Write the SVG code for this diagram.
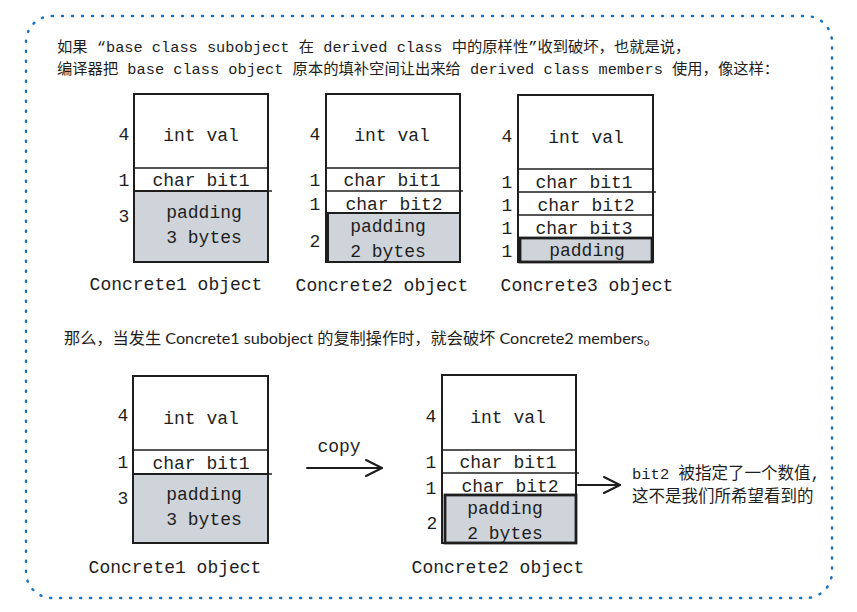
<svg xmlns="http://www.w3.org/2000/svg" width="857" height="612" viewBox="0 0 857 612">
<style>
.mono{font-family:"Liberation Mono","Noto Sans CJK SC",monospace;fill:#1e1e1e}
.cell{font-size:18px;text-anchor:middle}
.num{font-size:18px;text-anchor:middle}
.hdr{font-size:15.3px}
.mid{font-family:"Lato","Noto Sans CJK SC",sans-serif;font-size:16.2px;fill:#1e1e1e}
.box{fill:#ffffff;stroke:#1e1e1e;stroke-width:2}
.pad{fill:#ced4da;stroke:#1e1e1e;stroke-width:2}
.pad3{fill:#ced4da;stroke:#1e1e1e;stroke-width:2.8}
.sep{stroke:#1e1e1e;stroke-width:1.6;fill:none}
.conn{stroke:#1e1e1e;stroke-width:2;fill:none;stroke-linecap:round}
</style>
<defs>
<marker id="arr" viewBox="0 0 20 20" refX="19" refY="10" markerWidth="20" markerHeight="20" markerUnits="userSpaceOnUse" orient="auto">
<path d="M3 2 L19 10 L3 18" fill="none" stroke="#1e1e1e" stroke-width="2" stroke-linecap="round" stroke-linejoin="round"/>
</marker>
</defs>
<rect width="857" height="612" fill="#ffffff"/>
<rect id="frame" x="26" y="16" width="806" height="582" rx="26" ry="26" fill="none" stroke="#1971c2" stroke-width="2.5" stroke-dasharray="1 9" stroke-linecap="round"/>

<g id="header">
<text class="mono hdr" x="57" y="52">如果 “base class subobject 在 derived class 中的原样性”收到破坏，也就是说，</text>
<text class="mono hdr" x="57" y="74">编译器把 base class object 原本的填补空间让出来给 derived class members 使用，像这样：</text>
</g>

<g id="concrete1-top">
<rect class="box" x="134" y="94" width="134" height="168"/>
<rect class="pad" x="134" y="191" width="134" height="71"/>
<line class="sep" x1="134" y1="168" x2="268" y2="168"/>
<line class="sep" x1="134" y1="191" x2="272" y2="191"/>
<text class="mono cell" x="201" y="141">int val</text>
<text class="mono cell" x="201" y="186">char bit1</text>
<text class="mono cell" x="204" y="218">padding</text>
<text class="mono cell" x="204" y="243">3 bytes</text>
<text class="mono num" x="124" y="140">4</text>
<text class="mono num" x="124" y="186">1</text>
<text class="mono num" x="124" y="222">3</text>
<text class="mono cell" x="176" y="290">Concrete1 object</text>
</g>

<g id="concrete2-top">
<rect class="box" x="326" y="94" width="134" height="168"/>
<rect class="pad" x="328" y="213" width="132" height="49"/>
<line class="sep" x1="326" y1="168" x2="460" y2="168"/>
<line class="sep" x1="326" y1="191" x2="463" y2="191"/>
<text class="mono cell" x="392" y="141">int val</text>
<text class="mono cell" x="392" y="186">char bit1</text>
<text class="mono cell" x="394" y="210">char bit2</text>
<text class="mono cell" x="388" y="232">padding</text>
<text class="mono cell" x="388" y="257">2 bytes</text>
<text class="mono num" x="315" y="140">4</text>
<text class="mono num" x="315" y="186">1</text>
<text class="mono num" x="315" y="210">1</text>
<text class="mono num" x="315" y="247">2</text>
<text class="mono cell" x="382" y="291">Concrete2 object</text>
</g>

<g id="concrete3-top">
<rect class="box" x="518" y="95" width="135" height="167"/>
<line class="sep" x1="518" y1="169" x2="654" y2="169"/>
<line class="sep" x1="518" y1="192" x2="656" y2="192"/>
<line class="sep" x1="518" y1="215" x2="653" y2="215"/>
<rect class="pad3" x="520" y="238" width="132" height="24"/>
<text class="mono cell" x="586" y="143">int val</text>
<text class="mono cell" x="584" y="188">char bit1</text>
<text class="mono cell" x="586" y="211">char bit2</text>
<text class="mono cell" x="584" y="234">char bit3</text>
<text class="mono cell" x="587" y="256">padding</text>
<text class="mono num" x="507" y="142">4</text>
<text class="mono num" x="507" y="188">1</text>
<text class="mono num" x="507" y="211">1</text>
<text class="mono num" x="507" y="234">1</text>
<text class="mono num" x="507" y="257">1</text>
<text class="mono cell" x="587" y="291">Concrete3 object</text>
</g>

<g id="middle-text">
<text class="mid" x="64" y="344">那么，当发生 Concrete1 subobject 的复制操作时，就会破坏 Concrete2 members。</text>
</g>

<g id="concrete1-bottom">
<rect class="box" x="133" y="376" width="135" height="167"/>
<rect class="pad" x="133" y="474" width="135" height="69"/>
<line class="sep" x1="133" y1="450" x2="268" y2="450"/>
<line class="sep" x1="133" y1="474" x2="272" y2="474"/>
<text class="mono cell" x="201" y="424">int val</text>
<text class="mono cell" x="201" y="469">char bit1</text>
<text class="mono cell" x="204" y="500">padding</text>
<text class="mono cell" x="204" y="525">3 bytes</text>
<text class="mono num" x="123" y="421">4</text>
<text class="mono num" x="123" y="468">1</text>
<text class="mono num" x="123" y="504">3</text>
<text class="mono cell" x="175" y="573">Concrete1 object</text>
</g>

<g id="concrete2-bottom">
<rect class="box" x="442" y="375" width="134" height="168"/>
<line class="sep" x1="442" y1="450" x2="577" y2="450"/>
<line class="sep" x1="442" y1="473" x2="579" y2="473"/>
<rect class="pad3" x="445" y="495" width="131" height="48"/>
<text class="mono cell" x="508" y="423">int val</text>
<text class="mono cell" x="508" y="468">char bit1</text>
<text class="mono cell" x="510" y="492">char bit2</text>
<text class="mono cell" x="505" y="514">padding</text>
<text class="mono cell" x="505" y="539">2 bytes</text>
<text class="mono num" x="431" y="422">4</text>
<text class="mono num" x="431" y="468">1</text>
<text class="mono num" x="431" y="494">1</text>
<text class="mono num" x="432" y="529">2</text>
<text class="mono cell" x="498" y="573">Concrete2 object</text>
</g>

<g id="note">
<text class="mono" x="632" y="479"><tspan font-size="15.5">bit2 </tspan><tspan font-size="16.5">被指定了一个数值,</tspan></text>
<text class="mono" x="632" y="502" font-size="16.5">这不是我们所希望看到的</text>
</g>

<g id="connectors">
<path class="conn" d="M307 468 L382 468" marker-end="url(#arr)" stroke-width="2.5"/>
<text class="mono" x="339" y="452" font-size="18" text-anchor="middle">copy</text>
<path class="conn" d="M578 485 L620 485" marker-end="url(#arr)"/>
</g>
</svg>
